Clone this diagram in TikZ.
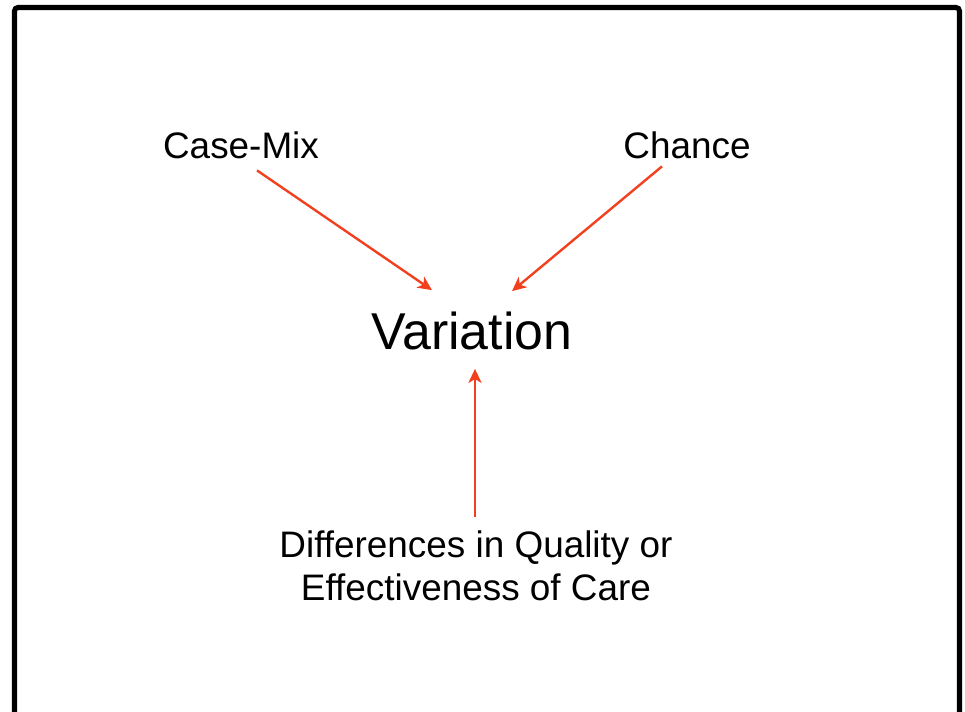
\documentclass[tikz,border=0pt]{standalone}
\usepackage{fontspec}
\setmainfont{Liberation Sans}
\usepackage{xcolor}
\usetikzlibrary{arrows.meta,calc,positioning}
\definecolor{Ink}{HTML}{000000}
\definecolor{ArrowRed}{HTML}{F2401E}
\tikzset{
  frameline/.style={draw=Ink,line width=2.9pt,rounded corners=2pt},
  causelabel/.style={font=\fontsize{21}{24.4}\selectfont,text=Ink,inner sep=0pt,align=center},
  effectlabel/.style={font=\fontsize{29.5}{34}\selectfont,text=Ink,inner sep=0pt},
  redarrow/.style={draw=ArrowRed,line width=1.35pt,-{Stealth[length=8pt,width=7.5pt,inset=2.2pt]}}
}
\begin{document}
\begin{tikzpicture}[x=0.02cm,y=-0.02cm]
  \useasboundingbox[fill=white] (0,0) rectangle (965,712);
  \draw[frameline] (14.5,712) -- (14.5,7.5) -- (959.5,7.5) -- (959.5,712);

  \node[causelabel] (casemix) at (241,145.5) {Case-Mix};
  \node[causelabel] (chance) at (687,145.5) {Chance};
  \node[effectlabel] (variation) at (472,330.5) {Variation};
  \node[causelabel] (care) at (476,566) {Differences in Quality or\\Effectiveness of Care};

  \draw[redarrow] ([shift={(16,11)}]casemix.south) -- ([shift={(-40,-21)}]variation.north);
  \draw[redarrow] ([shift={(-25,7)}]chance.south) -- ([shift={(40,-20)}]variation.north);
  \draw[redarrow] ([shift={(-1,-14)}]care.north) -- ([shift={(3,19)}]variation.south);
\end{tikzpicture}
\end{document}
